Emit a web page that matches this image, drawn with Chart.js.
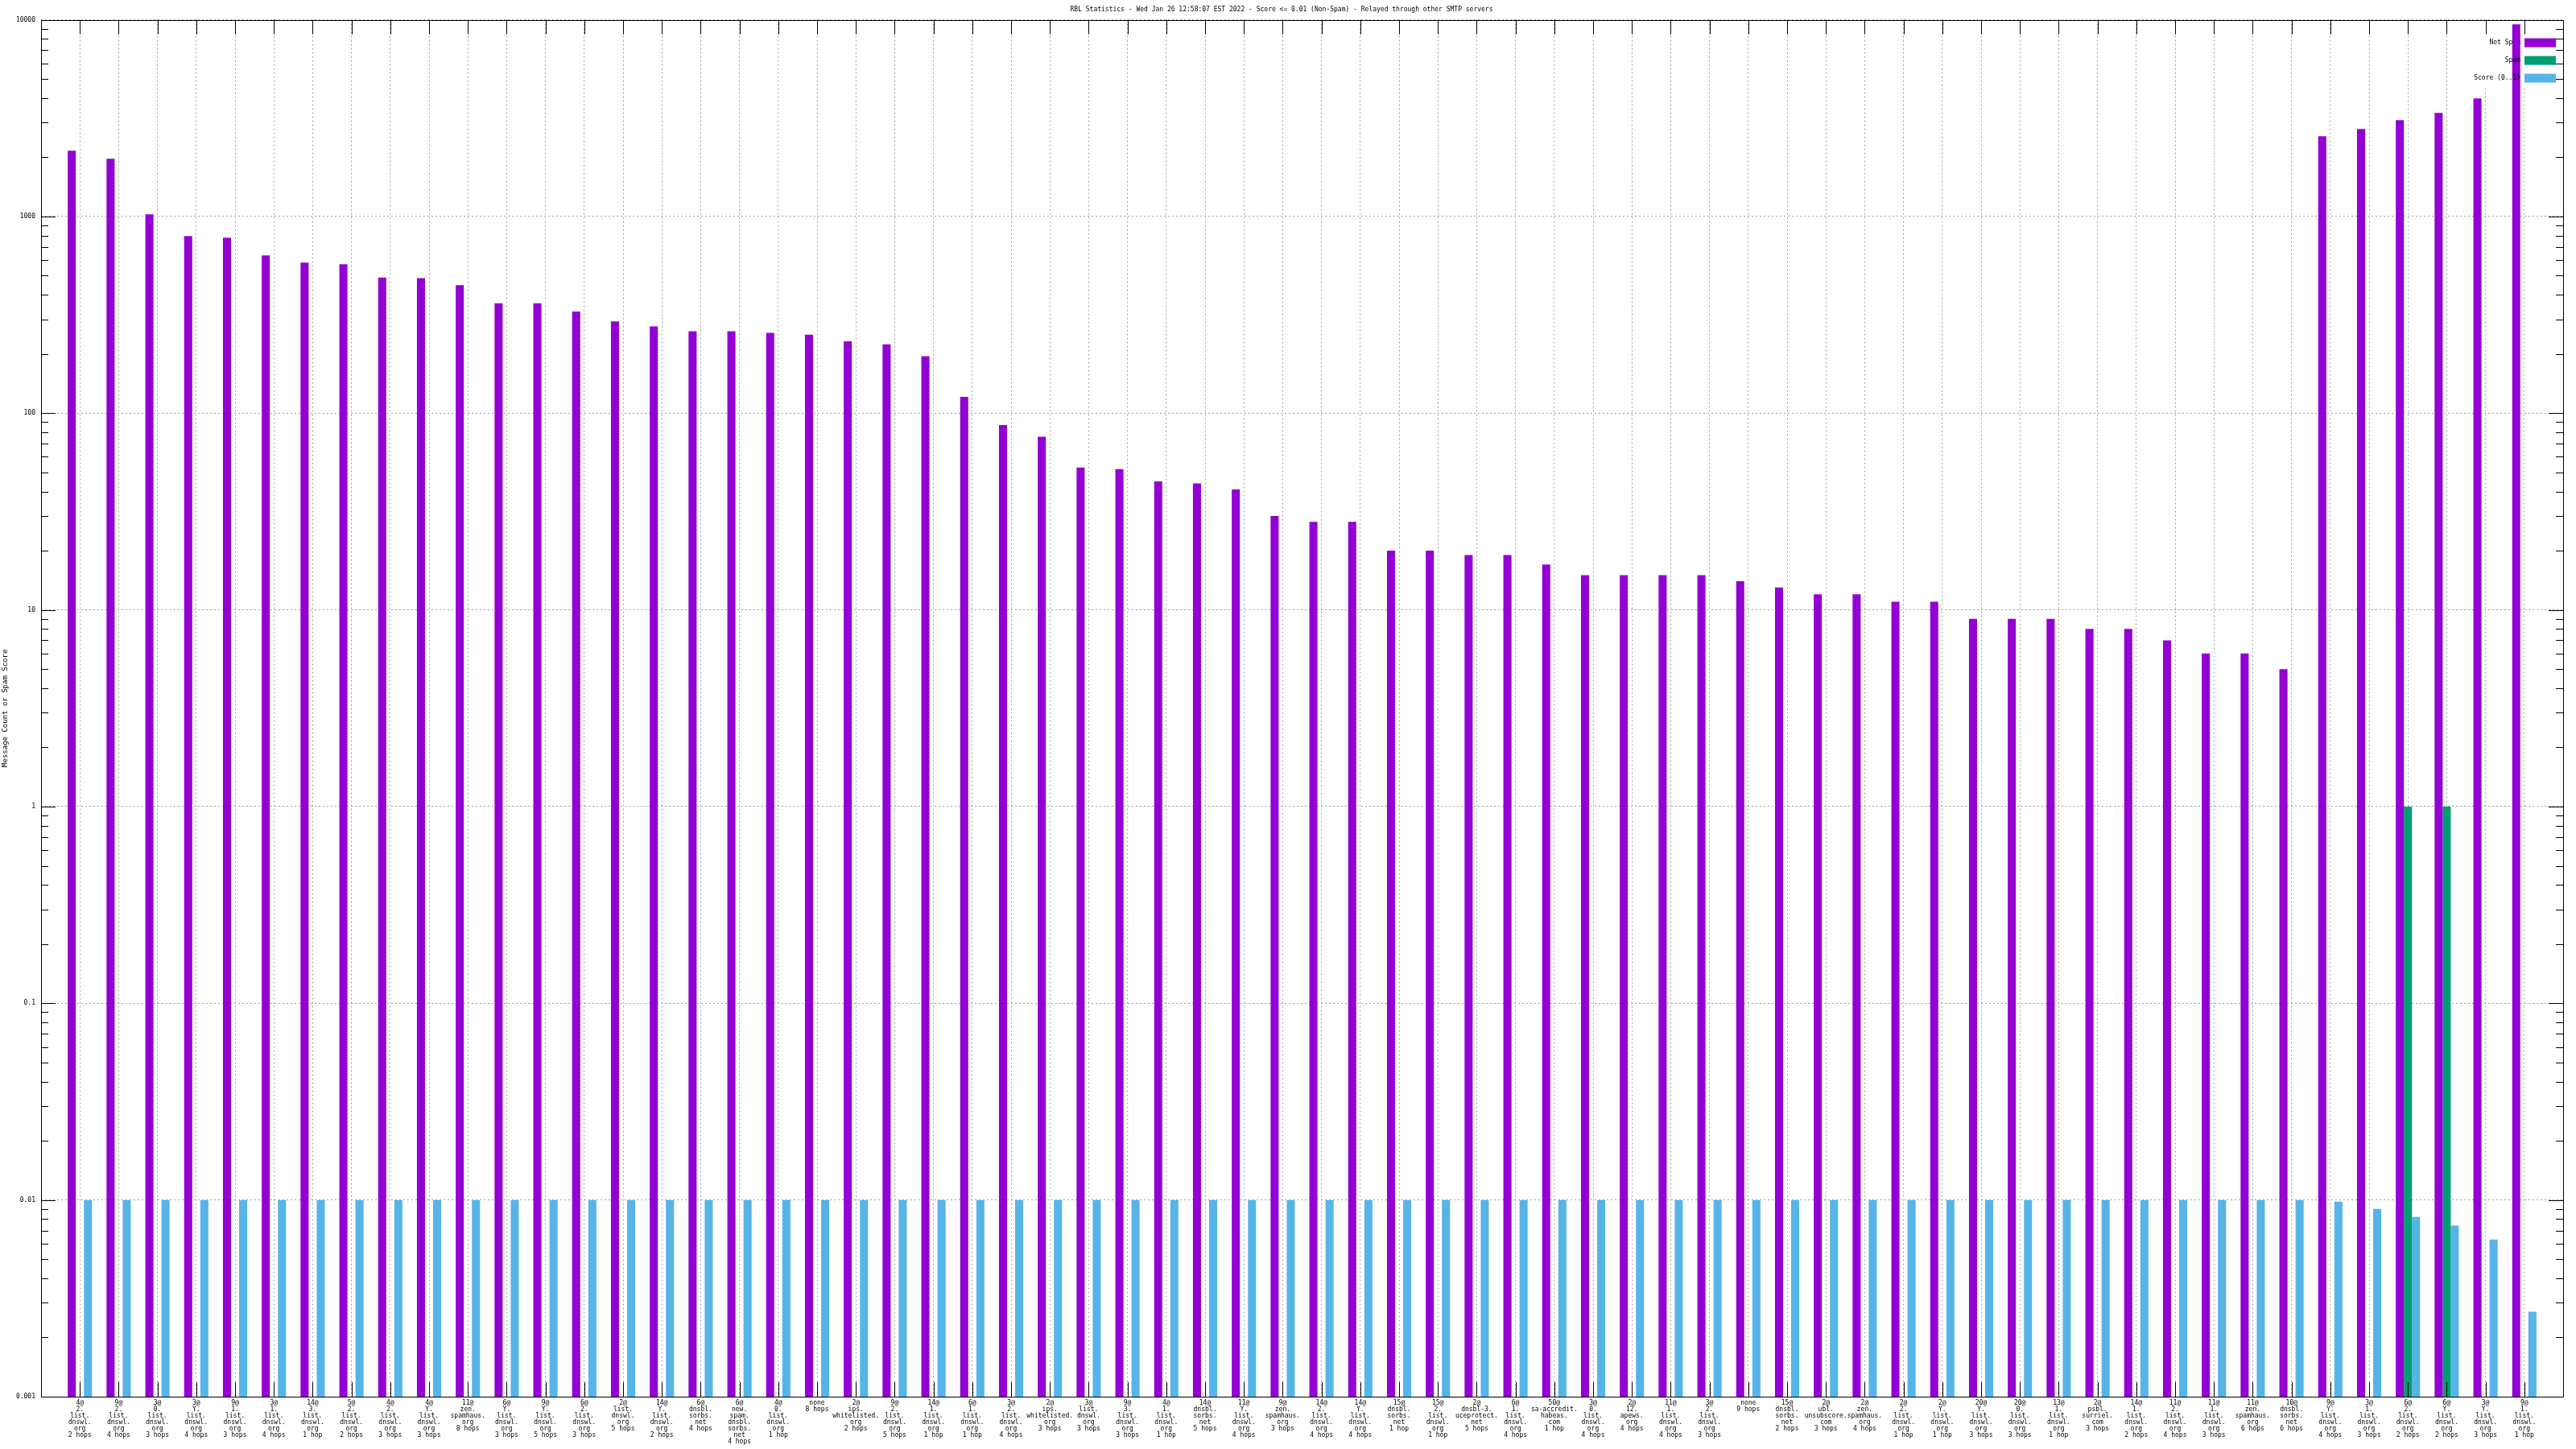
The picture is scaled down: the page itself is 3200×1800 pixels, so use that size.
<!DOCTYPE html>
<html>
<head>
<meta charset="utf-8">
<title>RBL Statistics</title>
<script src="https://cdn.jsdelivr.net/npm/chart.js@4/dist/chart.umd.min.js"></script>
<style>
  html, body { margin: 0; padding: 0; background: #fff; }
  canvas { display: block; }
</style>
</head>
<body>
<canvas id="rblChart" width="3200" height="1800"></canvas>
<script>
// RBL hit categories (one label line per '|')
const categories = [
  '4@|2.|list.|dnswl.|org|2 hops',
  '9@|2.|list.|dnswl.|org|4 hops',
  '3@|0.|list.|dnswl.|org|3 hops',
  '3@|Y.|list.|dnswl.|org|4 hops',
  '9@|1.|list.|dnswl.|org|3 hops',
  '3@|1.|list.|dnswl.|org|4 hops',
  '14@|3.|list.|dnswl.|org|1 hop',
  '5@|2.|list.|dnswl.|org|2 hops',
  '4@|2.|list.|dnswl.|org|3 hops',
  '4@|Y.|list.|dnswl.|org|3 hops',
  '11@|zen.|spamhaus.|org|8 hops',
  '6@|Y.|list.|dnswl.|org|3 hops',
  '9@|Y.|list.|dnswl.|org|5 hops',
  '6@|2.|list.|dnswl.|org|3 hops',
  '2@|list.|dnswl.|org|5 hops',
  '14@|Y.|list.|dnswl.|org|2 hops',
  '6@|dnsbl.|sorbs.|net|4 hops',
  '6@|new.|spam.|dnsbl.|sorbs.|net|4 hops',
  '4@|0.|list.|dnswl.|org|1 hop',
  'none|8 hops',
  '2@|ips.|whitelisted.|org|2 hops',
  '9@|2.|list.|dnswl.|org|5 hops',
  '14@|1.|list.|dnswl.|org|1 hop',
  '6@|1.|list.|dnswl.|org|1 hop',
  '3@|2.|list.|dnswl.|org|4 hops',
  '2@|ips.|whitelisted.|org|3 hops',
  '3@|list.|dnswl.|org|3 hops',
  '9@|3.|list.|dnswl.|org|3 hops',
  '4@|1.|list.|dnswl.|org|1 hop',
  '14@|dnsbl.|sorbs.|net|5 hops',
  '11@|Y.|list.|dnswl.|org|4 hops',
  '9@|zen.|spamhaus.|org|3 hops',
  '14@|2.|list.|dnswl.|org|4 hops',
  '14@|Y.|list.|dnswl.|org|4 hops',
  '15@|dnsbl.|sorbs.|net|1 hop',
  '15@|2.|list.|dnswl.|org|1 hop',
  '2@|dnsbl-3.|uceprotect.|net|5 hops',
  '6@|1.|list.|dnswl.|org|4 hops',
  '50@|sa-accredit.|habeas.|com|1 hop',
  '3@|0.|list.|dnswl.|org|4 hops',
  '2@|12.|apews.|org|4 hops',
  '11@|1.|list.|dnswl.|org|4 hops',
  '3@|2.|list.|dnswl.|org|3 hops',
  'none|9 hops',
  '15@|dnsbl.|sorbs.|net|2 hops',
  '2@|ubl.|unsubscore.|com|3 hops',
  '2@|zen.|spamhaus.|org|4 hops',
  '2@|2.|list.|dnswl.|org|1 hop',
  '2@|Y.|list.|dnswl.|org|1 hop',
  '20@|Y.|list.|dnswl.|org|3 hops',
  '20@|0.|list.|dnswl.|org|3 hops',
  '13@|1.|list.|dnswl.|org|1 hop',
  '2@|psbl.|surriel.|com|3 hops',
  '14@|1.|list.|dnswl.|org|2 hops',
  '11@|2.|list.|dnswl.|org|4 hops',
  '11@|1.|list.|dnswl.|org|3 hops',
  '11@|zen.|spamhaus.|org|6 hops',
  '10@|dnsbl.|sorbs.|net|6 hops',
  '9@|Y.|list.|dnswl.|org|4 hops',
  '3@|1.|list.|dnswl.|org|3 hops',
  '6@|2.|list.|dnswl.|org|2 hops',
  '6@|Y.|list.|dnswl.|org|2 hops',
  '3@|Y.|list.|dnswl.|org|3 hops',
  '9@|1.|list.|dnswl.|org|1 hop'
];

const notSpam = [
  2160, 1966, 1026, 795, 780, 634, 583, 572, 490, 486,
  448, 362, 362, 329, 293, 276, 261, 261, 256, 251,
  232, 224, 195, 121, 87, 76, 53, 52, 45, 44,
  41, 30, 28, 28, 20, 20, 19, 19, 17, 15,
  15, 15, 15, 14, 13, 12, 12, 11, 11, 9,
  9, 9, 8, 8, 7, 6, 6, 5, 2558, 2786,
  3090, 3364, 3981, 9480
];

const spam = [
  0, 0, 0, 0, 0, 0, 0, 0, 0, 0,
  0, 0, 0, 0, 0, 0, 0, 0, 0, 0,
  0, 0, 0, 0, 0, 0, 0, 0, 0, 0,
  0, 0, 0, 0, 0, 0, 0, 0, 0, 0,
  0, 0, 0, 0, 0, 0, 0, 0, 0, 0,
  0, 0, 0, 0, 0, 0, 0, 0, 0, 0,
  1, 1, 0, 0
];

const score = [
  0.01, 0.01, 0.01, 0.01, 0.01, 0.01, 0.01, 0.01, 0.01, 0.01,
  0.01, 0.01, 0.01, 0.01, 0.01, 0.01, 0.01, 0.01, 0.01, 0.01,
  0.01, 0.01, 0.01, 0.01, 0.01, 0.01, 0.01, 0.01, 0.01, 0.01,
  0.01, 0.01, 0.01, 0.01, 0.01, 0.01, 0.01, 0.01, 0.01, 0.01,
  0.01, 0.01, 0.01, 0.01, 0.01, 0.01, 0.01, 0.01, 0.01, 0.01,
  0.01, 0.01, 0.01, 0.01, 0.01, 0.01, 0.01, 0.01, 0.0098, 0.009,
  0.0082, 0.0074, 0.0063, 0.0027
];

const yTickLabels = ['0.001', '0.01', '0.1', '1', '10', '100', '1000', '10000'];

const FONT = 'DejaVu Sans Mono';
const GRID = '#a0a0a0';

const isDecade = v => Math.abs(Math.log10(v) - Math.round(Math.log10(v))) < 1e-6;
const points = arr => arr.map((v, i) => ({ x: i + 1, y: v }));

// key box inside the plot; first entry's text sits under the bars, the rest on top (gnuplot order)
const keyRowY = (a, i) => a.top + 28.5 + i * 22;
const keyText = (chart, from, to) => {
  const { ctx, chartArea: a } = chart;
  ctx.save();
  ctx.font = `8px "${FONT}"`;
  ctx.textAlign = 'right';
  ctx.textBaseline = 'middle';
  ctx.fillStyle = '#000';
  chart.data.datasets.slice(from, to).forEach((ds, j) => {
    ctx.fillText(ds.label, a.right - 53, keyRowY(a, from + j));
  });
  ctx.restore();
};

const keyPlugin = {
  id: 'key',
  beforeDatasetsDraw(chart) {
    const { ctx, chartArea: a } = chart;
    ctx.save();
    ctx.fillStyle = '#fff';
    ctx.fillRect(a.right - 120, a.top + 1, 119, 84);
    chart.data.datasets.forEach((ds, i) => {
      ctx.fillStyle = ds.backgroundColor;
      ctx.fillRect(a.right - 48, keyRowY(a, i) - 5.5, 39, 11);
    });
    ctx.restore();
    keyText(chart, 0, 1);
  },
  afterDatasetsDraw(chart) {
    keyText(chart, 1);
  }
};

// border and inward tick marks on all four sides
const framePlugin = {
  id: 'frame',
  afterDatasetsDraw(chart) {
    const { ctx, chartArea: a, scales: { x, y } } = chart;
    ctx.save();
    ctx.strokeStyle = '#000';
    ctx.lineWidth = 1;
    ctx.beginPath();
    y.ticks.forEach(t => {
      const py = Math.round(y.getPixelForValue(t.value)) + 0.5;
      const len = isDecade(t.value) ? 18 : 9;
      ctx.moveTo(a.left, py); ctx.lineTo(a.left + len, py);
      ctx.moveTo(a.right, py); ctx.lineTo(a.right - len, py);
    });
    x.ticks.forEach(t => {
      const px = Math.round(x.getPixelForValue(t.value)) + 0.5;
      ctx.moveTo(px, a.bottom); ctx.lineTo(px, a.bottom - 18);
      ctx.moveTo(px, a.top); ctx.lineTo(px, a.top + 18);
    });
    ctx.stroke();
    ctx.strokeRect(Math.round(a.left) + 0.5, Math.round(a.top) + 0.5,
      Math.round(a.right - a.left), Math.round(a.bottom - a.top));
    ctx.restore();
  }
};

new Chart(document.getElementById('rblChart'), {
  type: 'bar',
  data: {
    datasets: [
      { label: 'Not Spam', data: points(notSpam), backgroundColor: '#9400d3' },
      { label: 'Spam', data: points(spam), backgroundColor: '#009e73' },
      { label: 'Score (0..1)', data: points(score), backgroundColor: '#56b4e9' }
    ]
  },
  options: {
    responsive: false,
    animation: false,
    devicePixelRatio: 1,
    layout: { padding: { top: 0, right: 16, bottom: 0, left: 0 } },
    datasets: { bar: { categoryPercentage: 0.625, barPercentage: 1.0, borderWidth: 0 } },
    plugins: {
      legend: { display: false },
      tooltip: { enabled: false },
      title: {
        display: true,
        text: 'RBL Statistics - Wed Jan 26 12:58:07 EST 2022 - Score <= 0.01 (Non-Spam) - Relayed through other SMTP servers',
        color: '#000',
        font: { family: FONT, size: 8, weight: 'normal' },
        padding: { top: 7, bottom: 8 }
      }
    },
    scales: {
      x: {
        type: 'linear',
        offset: false,
        min: 0,
        max: categories.length + 1,
        afterBuildTicks: s => { s.ticks = categories.map((c, i) => ({ value: i + 1 })); },
        afterFit: s => { s.height = 65; },
        grid: { color: GRID, lineWidth: 1, drawTicks: false, offset: false },
        border: { display: false, dash: [2, 3] },
        ticks: {
          autoSkip: false,
          maxRotation: 0,
          minRotation: 0,
          padding: 4,
          color: '#000',
          font: { family: FONT, size: 8, lineHeight: 1 },
          callback: v => categories[v - 1] ? categories[v - 1].split('|') : ''
        }
      },
      y: {
        type: 'logarithmic',
        min: 0.001,
        max: 10000,
        afterBuildTicks: s => {
          const ticks = [];
          for (let e = -3; e < 4; e++) {
            for (let k = 1; k < 10; k++) ticks.push({ value: +(k * Math.pow(10, e)).toPrecision(6) });
          }
          ticks.push({ value: 10000 });
          s.ticks = ticks;
        },
        afterFit: s => { s.width = 51; },
        grid: {
          color: c => (c.tick && isDecade(c.tick.value)) ? GRID : 'rgba(0,0,0,0)',
          lineWidth: 1,
          drawTicks: false
        },
        border: { display: false, dash: [2, 3] },
        ticks: {
          autoSkip: false,
          padding: 7,
          color: '#000',
          font: { family: FONT, size: 8 },
          callback: v => isDecade(v) ? yTickLabels[Math.round(Math.log10(v)) + 3] : ''
        },
        title: {
          display: true,
          text: 'Message Count or Spam Score',
          color: '#000',
          font: { family: FONT, size: 9 },
          padding: { top: 1, bottom: 0 }
        }
      }
    }
  },
  plugins: [keyPlugin, framePlugin]
});
</script>
</body>
</html>
